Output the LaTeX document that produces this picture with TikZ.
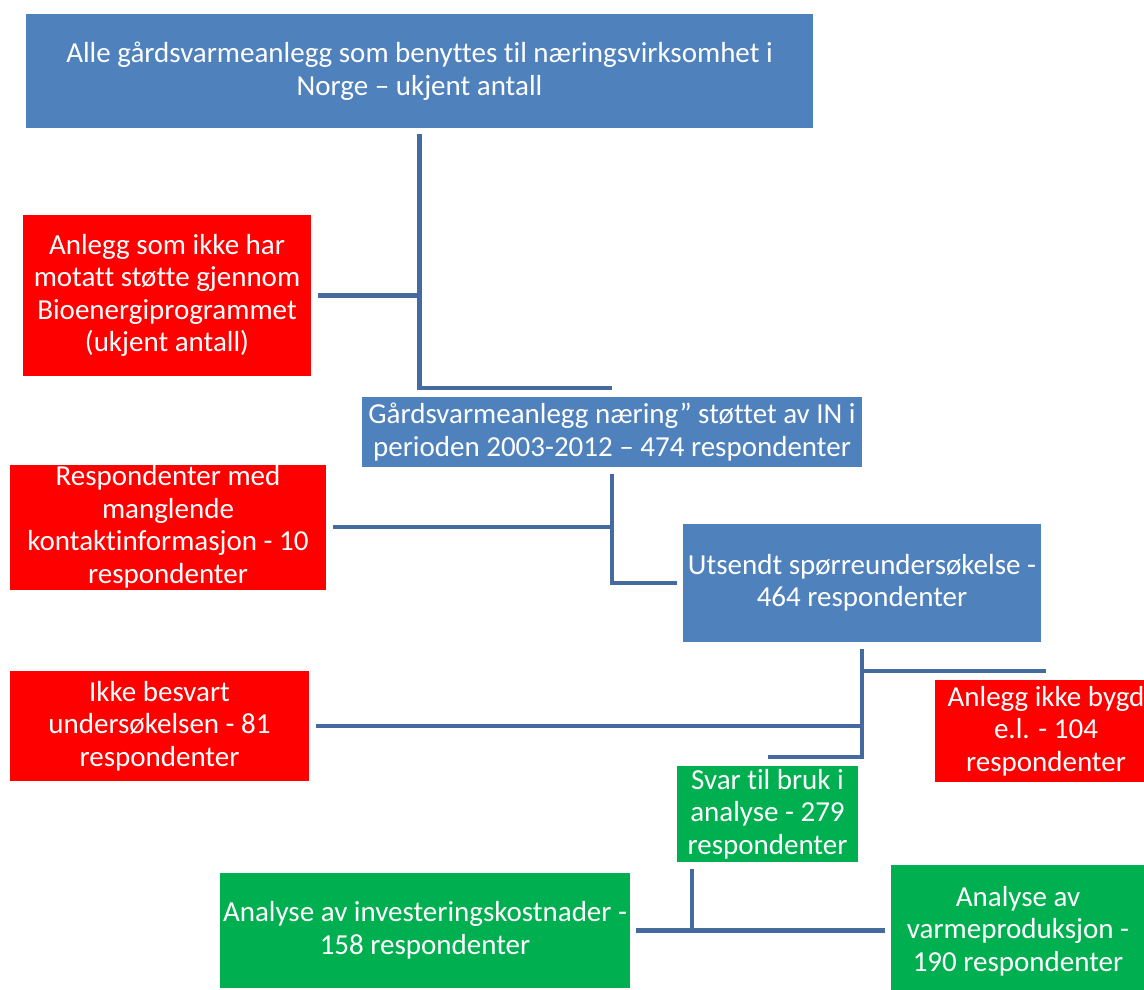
\documentclass[tikz,border=0pt]{standalone}
\usepackage{fontspec}
\setmainfont{Carlito}[Ligatures=NoCommon]
\usetikzlibrary{positioning}
\definecolor{boxblue}{RGB}{79,129,189}
\definecolor{boxred}{RGB}{255,0,0}
\definecolor{boxgreen}{RGB}{0,176,80}
\definecolor{linkblue}{RGB}{69,106,160}

\begin{document}
\begin{tikzpicture}[x=1pt,y=-1pt,font=\fontsize{29}{32.5}\selectfont]
\tikzset{
  blk/.style={inner sep=0pt,align=center,text=white,anchor=center},
  bluebox/.style={blk,fill=boxblue},
  redbox/.style={blk,fill=boxred},
  greenbox/.style={blk,fill=boxgreen},
  link/.style={draw=linkblue,line width=4.5pt}
}
\clip (0,0) rectangle (1144,989);
% boxes
\node(top)[bluebox,minimum width=787,minimum height=114] at (419.5,71){Alle gårdsvarmeanlegg som benyttes til næringsvirksomhet i\\Norge – ukjent antall};
\node(r1)[redbox,minimum width=288,minimum height=161] at (167,295.5){Anlegg som ikke har\\motatt støtte gjennom\\Bioenergiprogrammet\\(ukjent antall)};
\node(b2)[bluebox,minimum width=500,minimum height=70] at (612,432){Gårdsvarmeanlegg næring” støttet av IN i\\perioden 2003-2012 – 474 respondenter};
\node(r2)[redbox,minimum width=316,minimum height=125] at (168,527){Respondenter med\\manglende\\kontaktinformasjon - 10\\respondenter};
\node(b3)[bluebox,minimum width=358,minimum height=118] at (862,583){Utsendt spørreundersøkelse -\\464 respondenter};
\node(r3)[redbox,minimum width=299,minimum height=110] at (159.5,726){Ikke besvart\\undersøkelsen - 81\\respondenter};
\node(r4)[redbox,minimum width=222,minimum height=102] at (1046,731){Anlegg ikke bygd\\e.l. - 104\\respondenter};
\node(g1)[greenbox,minimum width=181,minimum height=96] at (767.5,814){Svar til bruk i\\analyse - 279\\respondenter};
\node(g2)[greenbox,minimum width=410,minimum height=115] at (425,930.5){Analyse av investeringskostnader -\\158 respondenter};
\node(g3)[greenbox,minimum width=254,minimum height=132] at (1018,931){Analyse av\\varmeproduksjon -\\190 respondenter};
\coordinate(split) at (692,930.5);
% connectors
\draw[link]([yshift=-6]top.south) |- ([yshift=9]b2.north);
\draw[link]([xshift=7]r1.east) -- (top.south |- r1.east);
\draw[link]([yshift=-7]b2.south) |- ([xshift=-6]b3.west);
\draw[link]([xshift=7]r2.east) -- (b2.south |- r2.east);
\draw[link]([yshift=-7]b3.south) |- ([yshift=9]g1.north);
\draw[link]([yshift=9]r4.north -| b3.south) -- ([yshift=9]r4.north);
\draw[link]([xshift=7]r3.east) -- (b3.south |- r3.east);
\draw[link]([yshift=-7]g1.south -| split) -- (split);
\draw[link]([xshift=6]g2.east) -- ([xshift=-6]g3.west |- g2.east);
\end{tikzpicture}
\end{document}
